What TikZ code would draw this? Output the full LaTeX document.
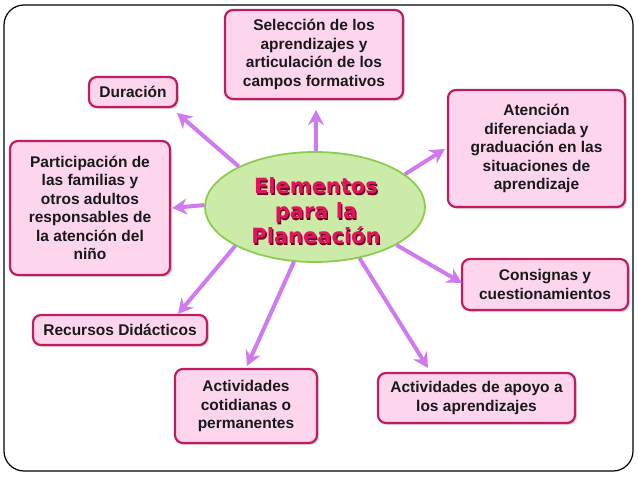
\documentclass[tikz,border=0pt]{standalone}
\usepackage{fontspec}
\setmainfont{Liberation Sans}
\newfontfamily\heavyfont{DejaVu Sans}
\usetikzlibrary{arrows.meta,shapes.geometric,shadows}
\definecolor{boxfill}{RGB}{253,214,238}
\definecolor{boxline}{RGB}{196,26,98}
\definecolor{arrowc}{RGB}{206,122,240}
\definecolor{elfill}{RGB}{204,234,168}
\definecolor{elline}{RGB}{140,204,80}
\definecolor{titlec}{RGB}{226,18,92}
\definecolor{titledark}{RGB}{110,0,40}
\definecolor{txt}{RGB}{25,25,25}
\begin{document}
\begin{tikzpicture}[x=1pt,y=-1pt,
  box/.style={draw=boxline, line width=2.2pt, fill=boxfill, rounded corners=8pt,
    inner sep=0pt, align=center, text=txt,
    font=\fontsize{15.5}{18.5}\selectfont\bfseries,
    drop shadow={shadow xshift=2pt, shadow yshift=-2pt, opacity=0.3}},
  arr/.style={draw=arrowc, line width=4pt, -{Stealth[length=15pt,width=16pt,inset=5pt]}},
  title/.style={align=center, font=\heavyfont\fontsize{21}{25}\selectfont\bfseries}
]
\useasboundingbox (0,0) rectangle (638,479);
\draw[line width=1.2pt, rounded corners=20pt] (4,5) rectangle (633,471);

\node[ellipse, draw=elline, line width=1.8pt, fill=elfill, minimum width=220pt,
  minimum height=110pt, inner sep=0pt] (el) at (315,207) {};
\node[title, text=titledark] (tsh) at (317.2,212.2) {Elementos\\para la\\Planeación};
\node[title, text=titlec] (tt) at (316,211) {Elementos\\para la\\Planeación};

\node[box, minimum width=88pt, minimum height=30pt] (dur) at (133,92) {Duración};
\node[box, minimum width=160pt, minimum height=134pt] (par) at (90,208)
  {Participación de\\las familias y\\otros adultos\\responsables de\\la atención del\\niño};
\node[box, minimum width=178pt, minimum height=89pt] (sel) at (314,54.5)
  {Selección de los\\aprendizajes y\\articulación de los\\campos formativos};
\node[box, minimum width=177pt, minimum height=117pt] (ate) at (536.5,148.5)
  {Atención\\diferenciada y\\graduación en las\\situaciones de\\aprendizaje};
\node[box, minimum width=166pt, minimum height=51pt] (con) at (545,284.5)
  {Consignas y\\cuestionamientos};
\node[box, minimum width=197pt, minimum height=50pt] (apo) at (476.5,398)
  {Actividades de apoyo a\\los aprendizajes};
\node[box, minimum width=174pt, minimum height=30pt] (rec) at (120,330)
  {Recursos Didácticos};
\node[box, minimum width=142pt, minimum height=74pt] (cot) at (246,406)
  {Actividades\\cotidianas o\\permanentes};

\coordinate (tdur) at (177,113);
\coordinate (tsel) at (316,110);
\coordinate (tpar) at (172,208);
\coordinate (tate) at (445,149);
\coordinate (trec) at (178,314);
\coordinate (tcot) at (247,366);
\coordinate (tapo) at (428,368);
\coordinate (tcon) at (462,283);

\draw[arr] (el.152) -- (tdur);
\draw[arr] (el.89) -- (tsel);
\draw[arr] (el.179) -- (tpar);
\draw[arr] (el.20) -- (tate);
\draw[arr] (el.206) -- (trec);
\draw[arr] (el.249) -- (tcot);
\draw[arr] (el.311) -- (tapo);
\draw[arr] (el.335) -- (tcon);
\end{tikzpicture}
\end{document}
